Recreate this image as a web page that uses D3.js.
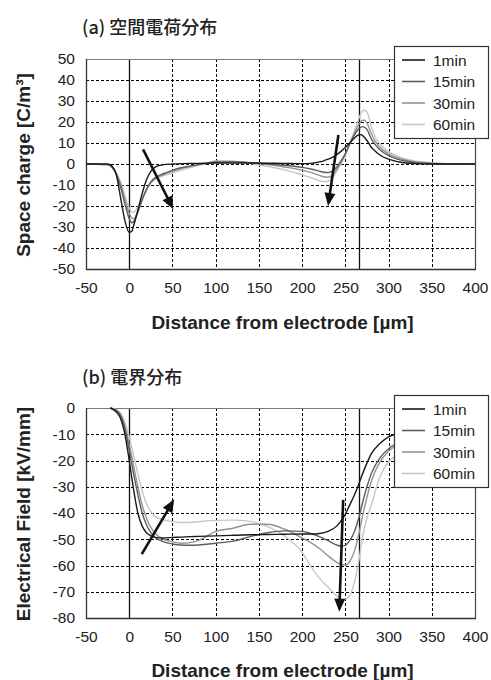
<!DOCTYPE html>
<html><head><meta charset="utf-8">
<script src="https://cdn.jsdelivr.net/npm/d3@7/dist/d3.min.js"></script>
<style>
html,body{margin:0;padding:0;background:#fff;}
svg{display:block;}
</style></head>
<body>
<script>
// ---------- DATA ----------
const seriesNames = ["1min", "15min", "30min", "60min"];
const seriesColors = ["#1a1a1a", "#5e5e5e", "#939393", "#c6c6c6"];

const xTicks = [-50, 0, 50, 100, 150, 200, 250, 300, 350, 400];
const chargeTicks = [-50, -40, -30, -20, -10, 0, 10, 20, 30, 40, 50];
const fieldTicks = [-80, -70, -60, -50, -40, -30, -20, -10, 0];
const electrodeLines = [0, 266];

// (a) space charge [C/m3]
const chargeX = [-50,-25,-20,-15,-10,-5,0,3,5,10,15,20,25,30,40,50,60,70,80,90,100,120,150,180,200,210,220,225,230,235,240,245,250,255,260,265,268,270,272,275,280,285,290,300,310,320,330,350,375,400];
const charge1 = [0,0,-1,-5,-16,-27,-32.6,-32,-29.5,-22,-14,-7.5,-3.5,-1.5,-0.3,0,0.2,0.3,0.3,0.4,0.5,0.5,0.5,0.3,0.2,0.3,1,1.5,2.3,3.2,4.5,6,7.8,10,12.2,13.8,14,13.5,12.7,11.2,8,6,4.3,2.3,1.1,0.5,0.2,0,0,0];
const charge15 = [0,-0.3,-1.5,-5,-11,-19,-26,-28,-27.5,-23,-17,-12,-8.5,-6.5,-4.5,-3,-1.8,-1,-0.3,0.3,0.8,1,0.3,-0.6,-1.6,-2.4,-3.4,-3.9,-4.1,-3.4,-1.5,1.5,5,9.5,13.5,16.5,17.5,17.8,17.6,16.5,12,9,6.8,4,2.3,1.3,0.7,0.2,0,0];
const charge30 = [0,-0.3,-1.5,-4.5,-9.5,-17,-23.5,-25.8,-26,-22.5,-17,-12.5,-9,-7,-5,-3.5,-2.2,-1.2,-0.4,0.4,1.2,1.2,0.2,-1.4,-2.9,-4,-5.4,-6.1,-6.3,-5.3,-2.5,0.8,4.5,9.5,14.2,18.5,20.2,20.8,20.8,19.5,14.5,10.5,8,5,3,1.8,1.1,0.4,0.1,0];
const charge60 = [0,-0.2,-1.2,-4,-8.5,-15,-21,-22.8,-23,-20.5,-16,-12,-9,-7.2,-5.5,-4.3,-3,-1.8,-0.6,0.4,1.5,1.3,-0.5,-2.8,-5.2,-6.5,-7.9,-8.4,-8.2,-6.8,-3.5,0,4,9.5,15,21,24,25.2,25.6,24.8,18,12.5,9.5,6,3.8,2.4,1.5,0.6,0.1,0];

// (b) electrical field [kV/mm]
const fieldX = [-22,-20,-15,-10,-5,0,5,10,15,20,25,30,40,50,60,70,80,100,120,140,160,180,200,210,220,230,240,245,250,255,260,265,270,275,280,290,300,310];
const field1 = [0,-0.3,-1.5,-4,-10,-20,-31,-40,-45,-47.5,-48.7,-49.3,-49.5,-49.3,-49.2,-49,-48.9,-48.7,-48.5,-48.3,-48.2,-48.1,-48,-48,-47.8,-47,-45,-43,-40.5,-37,-33.5,-29.5,-25,-21,-17.5,-13.5,-11,-9.8];
const field15 = [0,-0.2,-1,-3,-8,-16,-25,-33,-40,-44.5,-47.5,-49.3,-51,-51.8,-52.2,-52.3,-52.2,-51.5,-50.7,-49,-47.5,-46.8,-47,-47.8,-49,-50.5,-52.2,-52.6,-52.3,-50.5,-47.5,-42.5,-36,-30,-25,-19,-15.5,-13.5];
const field30 = [0,-0.2,-0.8,-2.5,-7,-14,-22,-30,-37,-42,-45.5,-47.8,-50,-51,-51.5,-51.3,-50.5,-47,-45.8,-44.3,-44.3,-46.2,-49.5,-51.3,-53.5,-56.3,-58.8,-59.6,-59.8,-58.5,-55,-49,-41,-34,-28,-20.5,-16.5,-14];
const field60 = [0,-0.1,-0.6,-2,-5.5,-11,-18,-25,-31.5,-36.5,-39.5,-41.3,-42.6,-43.3,-43.6,-43.6,-43.3,-42.8,-42.7,-43.2,-45.2,-48.8,-55,-60.3,-64.8,-68.2,-71.5,-72.6,-72.8,-71.5,-67,-59.5,-49,-42,-37,-26.2,-20.5,-18];

// arrows: [x0, y0, x1, y1] in data units (tail -> head)
const chargeArrows = [[16, 7, 51, -21.6], [242, 13.8, 230, -20]];
const fieldArrows = [[14.5, -55.7, 52, -34.8], [247.5, -35, 243, -77.6]];

// ---------- DRAW ----------
const W = 491, H = 680;
const svg = d3.select("body").append("svg").attr("width", W).attr("height", H);
const x = d3.scaleLinear().domain([-50, 400]).range([86, 475]);

const tickFont = "'Liberation Sans', Arial, sans-serif";
const fmt = d => String(d);

function panel(opts) {
  const { y, yTicks, xs, series, arrows, title, titleY, yTitle, xTitleY, legendTop } = opts;
  const g = svg.append("g");
  const [yBot, yTop] = y.range();
  const xL = x.range()[0], xR = x.range()[1];

  // grid
  g.append("g").selectAll("line").data(yTicks.filter(t => t !== y.domain()[0] && t !== y.domain()[1]))
    .join("line").attr("x1", xL).attr("x2", xR)
    .attr("y1", d => Math.round(y(d)) + 0.5).attr("y2", d => Math.round(y(d)) + 0.5)
    .attr("stroke", "#000").attr("stroke-width", 1).attr("stroke-dasharray", "3,2");
  g.append("g").selectAll("line").data(xTicks.filter(t => t > -50 && t < 400 && t !== 0))
    .join("line").attr("y1", yTop).attr("y2", yBot)
    .attr("x1", d => Math.round(x(d)) + 0.5).attr("x2", d => Math.round(x(d)) + 0.5)
    .attr("stroke", "#000").attr("stroke-width", 1).attr("stroke-dasharray", "3,2");

  // electrode lines
  g.append("g").selectAll("line").data(electrodeLines).join("line")
    .attr("x1", d => Math.round(x(d)) + 0.5).attr("x2", d => Math.round(x(d)) + 0.5)
    .attr("y1", yTop).attr("y2", yBot).attr("stroke", "#111").attr("stroke-width", 1.3);

  // border
  g.append("line").attr("x1", xL).attr("x2", xR).attr("y1", yTop + 0.5).attr("y2", yTop + 0.5).attr("stroke", "#7a7a7a").attr("stroke-width", 1.2);
  g.append("line").attr("x1", xR + 0.5).attr("x2", xR + 0.5).attr("y1", yTop).attr("y2", yBot).attr("stroke", "#444").attr("stroke-width", 1.2);
  g.append("line").attr("x1", xL).attr("x2", xR + 1).attr("y1", yBot + 0.5).attr("y2", yBot + 0.5).attr("stroke", "#333").attr("stroke-width", 1.3);
  g.append("line").attr("x1", xL + 0.5).attr("x2", xL + 0.5).attr("y1", yTop).attr("y2", yBot + 1).attr("stroke", "#333").attr("stroke-width", 1.3);

  // curves
  const line = d3.line().x(d => x(d[0])).y(d => y(d[1])).curve(d3.curveMonotoneX);
  series.slice().reverse().forEach((vals, ri) => {
    const i = series.length - 1 - ri;
    g.append("path").datum(xs.map((xv, k) => [xv, vals[k]]))
      .attr("d", line).attr("fill", "none")
      .attr("stroke", seriesColors[i]).attr("stroke-width", 1.4);
  });

  // arrows
  arrows.forEach(a => {
    const x0 = x(a[0]), y0 = y(a[1]), x1 = x(a[2]), y1 = y(a[3]);
    const ang = Math.atan2(y1 - y0, x1 - x0);
    const L = 13, Wd = 5.5;
    const bx = x1 - L * Math.cos(ang), by = y1 - L * Math.sin(ang);
    g.append("line").attr("x1", x0).attr("y1", y0).attr("x2", bx + 2 * Math.cos(ang)).attr("y2", by + 2 * Math.sin(ang))
      .attr("stroke", "#111").attr("stroke-width", 2.6);
    const px = -Math.sin(ang), py = Math.cos(ang);
    g.append("path").attr("d", `M${x1},${y1}L${bx + Wd * px},${by + Wd * py}L${bx - Wd * px},${by - Wd * py}Z`)
      .attr("fill", "#111");
  });

  // axes
  const ya = d3.axisLeft(y).tickValues(yTicks).tickSize(0).tickPadding(11).tickFormat(fmt);
  const yg = g.append("g").attr("transform", `translate(${xL},0)`).call(ya);
  yg.select(".domain").remove();
  yg.selectAll("text").attr("font-family", tickFont).attr("font-size", 15.5).attr("fill", "#222");
  const xa = d3.axisBottom(x).tickValues(xTicks).tickSize(0).tickPadding(13).tickFormat(fmt);
  const xg = g.append("g").attr("transform", `translate(0,${yBot})`).call(xa);
  xg.select(".domain").remove();
  xg.selectAll("text").attr("font-family", tickFont).attr("font-size", 15.5).attr("fill", "#222");

  // titles
  g.append("text").attr("x", 82).attr("y", titleY).text(title)
    .attr("font-family", "'Noto Sans CJK JP', sans-serif").attr("font-size", 18).attr("font-weight", 500).attr("fill", "#222");
  g.append("text").attr("x", (xL + xR) / 2 + 2).attr("y", xTitleY).attr("text-anchor", "middle")
    .text("Distance from electrode [µm]")
    .attr("font-family", tickFont).attr("font-size", 19).attr("font-weight", "bold").attr("fill", "#222");
  g.append("text").attr("transform", `translate(29.5,${(yTop + yBot) / 2 + 1}) rotate(-90)`)
    .attr("text-anchor", "middle").text(yTitle)
    .attr("font-family", tickFont).attr("font-size", 19).attr("font-weight", "bold").attr("fill", "#222");

  // legend
  const lg = g.append("g").attr("transform", `translate(394,${legendTop})`);
  lg.append("rect").attr("x", 0.5).attr("y", 0.5).attr("width", 94).attr("height", 92)
    .attr("fill", "#fff").attr("stroke", "#333").attr("stroke-width", 1.2);
  seriesNames.forEach((n, i) => {
    const cy = 14 + i * 21.5;
    lg.append("line").attr("x1", 8).attr("x2", 31).attr("y1", cy).attr("y2", cy)
      .attr("stroke", seriesColors[i]).attr("stroke-width", 1.6);
    lg.append("text").attr("x", 39).attr("y", cy + 5.5).text(n)
      .attr("font-family", tickFont).attr("font-size", 15.5).attr("fill", "#222");
  });
}

panel({
  y: d3.scaleLinear().domain([-50, 50]).range([269, 59]),
  yTicks: chargeTicks, xs: chargeX,
  series: [charge1, charge15, charge30, charge60],
  arrows: chargeArrows,
  title: "(a) 空間電荷分布", titleY: 34,
  yTitle: "Space charge [C/m³]", xTitleY: 329, legendTop: 46
});
panel({
  y: d3.scaleLinear().domain([-80, 0]).range([618, 408]),
  yTicks: fieldTicks, xs: fieldX,
  series: [field1, field15, field30, field60],
  arrows: fieldArrows,
  title: "(b) 電界分布", titleY: 384,
  yTitle: "Electrical Field [kV/mm]", xTitleY: 677, legendTop: 395
});
</script>
</body></html>
